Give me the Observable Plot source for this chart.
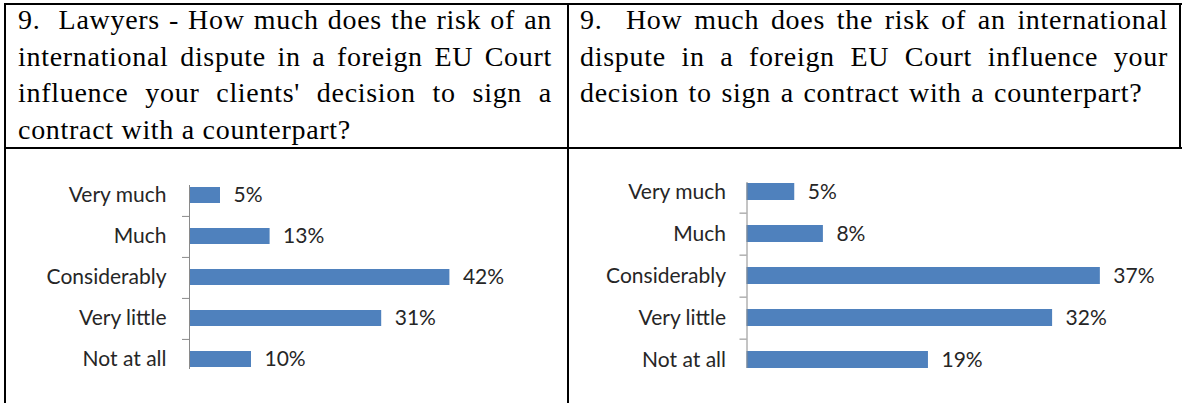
<!DOCTYPE html>
<html><head><meta charset="utf-8">
<script src="https://cdn.jsdelivr.net/npm/d3@7"></script>
<script src="https://cdn.jsdelivr.net/npm/@observablehq/plot@0.6"></script>
<style>
body{margin:0;background:#fff;}
#page{position:relative;width:1182px;height:403px;overflow:hidden;background:#fff;}
.rule{position:absolute;background:#000;}
.q{position:absolute;top:2px;font-family:"Liberation Serif",serif;font-size:28px;letter-spacing:0.7px;line-height:36.5px;color:#000;}
.q div{text-align:justify;text-align-last:justify;}
.q div.last{text-align-last:left;}
#qRight div.last{word-spacing:2px;}
.chart{position:absolute;top:150px;}
.chart svg{overflow:visible;}
</style>
</head><body>
<div id="page">
  <div class="q" id="qLeft" style="left:18px;width:534px;"></div>
  <div class="q" id="qRight" style="left:580px;width:588px;"></div>
  <div class="rule" style="left:4px;top:3px;width:1178px;height:2px;"></div>
  <div class="rule" style="left:4px;top:3px;width:2px;height:400px;"></div>
  <div class="rule" style="left:567px;top:3px;width:2px;height:400px;"></div>
  <div class="rule" style="left:1179px;top:3px;width:2px;height:146px;"></div>
  <div class="rule" style="left:4px;top:147px;width:1178px;height:2px;"></div>
  <div class="chart" id="cLeft" style="left:6px;"></div>
  <div class="chart" id="cRight" style="left:569px;"></div>
</div>
<script>
const categories = ["Very much", "Much", "Considerably", "Very little", "Not at all"];
const lawyersValues = [5, 13, 42, 31, 10];
const respondentsValues = [5, 8, 37, 32, 19];
const leftQuestionLines = [
  "9.\u00a0 Lawyers - How much does the risk of an",
  "international dispute in a foreign EU Court",
  "influence your clients' decision to sign a",
  "contract with a counterpart?"
];
const rightQuestionLines = [
  "9.\u00a0 How much does the risk of an international",
  "dispute in a foreign EU Court influence your",
  "decision to sign a contract with a counterpart?"
];

function fillQuestion(id, lines) {
  const el = document.getElementById(id);
  lines.forEach((t, i) => {
    const d = document.createElement("div");
    d.textContent = t;
    if (i === lines.length - 1) d.className = "last";
    el.appendChild(d);
  });
}
fillQuestion("qLeft", leftQuestionLines);
fillQuestion("qRight", rightQuestionLines);

function chart({values, width, height, marginLeft, marginTop, marginBottom, xMax, pxPerPct, labelPad}) {
  const data = categories.map((c, i) => ({category: c, value: values[i]}));
  const padInner = 0.6;
  const step = (height - marginTop - marginBottom) / (categories.length - padInner);
  return Plot.plot({
    width, height, marginLeft, marginTop, marginBottom, marginRight: 0,
    style: {fontFamily: "Lato, sans-serif", fontSize: "21px", color: "#262626", background: "transparent"},
    x: {domain: [0, xMax], range: [marginLeft, marginLeft + xMax * pxPerPct], axis: null},
    y: {domain: categories, paddingInner: padInner, paddingOuter: 0, axis: null, label: null},
    marks: [
      Plot.barX(data, {x: "value", y: "category", fill: "#4f81bd"}),
      Plot.ruleX([0], {stroke: "#8a8a8a"}),
      Plot.axisY({ticks: categories.slice(0, -1), tickSize: 7, tickFormat: () => "", dy: step / 2, stroke: "#8a8a8a", label: null}),
      Plot.axisY({tickSize: 0, tickPadding: labelPad, fill: "#262626", fontSize: 21, label: null}),
      Plot.text(data, {x: "value", y: "category", text: d => d.value + "%", dx: 13, textAnchor: "start", fill: "#262626", fontSize: 21})
    ]
  });
}

document.getElementById("cLeft").appendChild(chart({
  values: lawyersValues, width: 560, height: 253, marginLeft: 183, marginTop: 35, marginBottom: 34,
  xMax: 50, pxPerPct: 6.2, labelPad: 23
}));
document.getElementById("cRight").appendChild(chart({
  values: respondentsValues, width: 613, height: 253, marginLeft: 177.5, marginTop: 32, marginBottom: 35,
  xMax: 45, pxPerPct: 9.55, labelPad: 21
}));
</script>
</body></html>
